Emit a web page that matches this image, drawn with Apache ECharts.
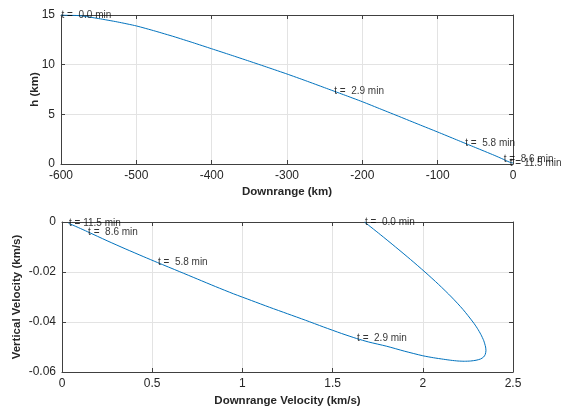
<!DOCTYPE html>
<html>
<head>
<meta charset="utf-8">
<script src="https://cdn.jsdelivr.net/npm/echarts@6/dist/echarts.min.js"></script>
<style>
html,body{margin:0;padding:0;background:#fff;}
#chart{width:566px;height:407px;}
</style>
</head>
<body>
<div id="chart"></div>
<script>
// ---- Top plot: altitude vs downrange ----
const downrange = [-600, -575, -550, -525, -500, -475, -450, -425, -400, -375, -350, -325, -300, -275, -250, -225, -200, -175, -150, -125, -100, -75, -50, -25, -13, -5, 0];
const altitude  = [15.0, 14.93, 14.64, 14.3, 13.9, 13.38, 12.82, 12.22, 11.6, 10.98, 10.35, 9.71, 9.06, 8.38, 7.68, 6.98, 6.27, 5.51, 4.75, 3.98, 3.22, 2.44, 1.66, 0.88, 0.48, 0.2, 0.1];

// ---- Bottom plot: vertical velocity vs downrange velocity ----
const downVel = [1.677, 1.764, 1.849, 1.932, 2.012, 2.088, 2.159, 2.223, 2.278, 2.302, 2.322, 2.338, 2.348, 2.350, 2.346, 2.337, 2.320, 2.295, 2.265, 2.230, 2.195, 2.155, 2.115, 2.060, 2.000, 1.900, 1.800, 1.700, 1.633, 1.550, 1.450, 1.350, 1.250, 1.150, 1.050, 0.950, 0.850, 0.750, 0.650, 0.529, 0.450, 0.350, 0.250, 0.142, 0.090, 0.036];
const vertVel = [0, -0.0050, -0.0100, -0.0150, -0.0200, -0.0250, -0.0300, -0.0350, -0.0400, -0.0425, -0.0450, -0.0475, -0.0500, -0.0515, -0.0530, -0.0540, -0.0548, -0.0553, -0.0556, -0.0557, -0.0556, -0.0553, -0.0549, -0.0543, -0.0535, -0.0517, -0.0497, -0.0480, -0.0466, -0.0446, -0.0420, -0.0393, -0.0367, -0.0341, -0.0314, -0.0287, -0.0258, -0.0228, -0.0198, -0.0162, -0.0138, -0.0107, -0.0075, -0.0039, -0.0022, -0.0005];

// ---- Time annotations ----
const timeLabels = ['t =  0.0 min', 't =  2.9 min', 't =  5.8 min', 't =  8.6 min', 't = 11.5 min'];
const labelRange = [-600, -238, -64, -13, -5];
const labelAlt   = [15.0, 7.28, 2.08, 0.48, 0.12];
const labelDownVel = [1.677, 1.633, 0.529, 0.142, 0.036];
const labelVertVel = [0, -0.0466, -0.0162, -0.0039, -0.0005];

// tick settings
const xTicksTop = {min: -600, max: 0, interval: 100};
const yTicksTop = {min: 0, max: 15, interval: 5};
const xTicksBot = {min: 0, max: 2.5, interval: 0.5};
const yTicksBot = {min: -0.06, max: 0, interval: 0.02};

const AX = '#404040', TXT = '#262626', GRID = '#e3e3e3', LINE = '#0072BD';
const FONT = 'Liberation Sans, Arial, Helvetica, sans-serif';

function mainAxis(grid, ticks, pos, name, gap) {
  return Object.assign({
    gridIndex: grid, type: 'value', position: pos,
    name: name, nameLocation: 'middle', nameGap: gap, nameMoveOverlap: false,
    nameTextStyle: {fontWeight: 'bold', fontSize: 11.5, color: TXT, fontFamily: FONT},
    axisLine: {show: true, onZero: false, lineStyle: {color: AX, width: 1}},
    axisTick: {show: true, inside: true, length: 4, lineStyle: {color: AX}},
    axisLabel: {fontSize: 12, color: TXT, margin: 6, fontFamily: FONT},
    splitLine: {show: true, lineStyle: {color: GRID, width: 1}}
  }, ticks);
}
function boxAxis(grid, ticks, pos) {
  return Object.assign({
    gridIndex: grid, type: 'value', position: pos,
    axisLine: {show: true, onZero: false, lineStyle: {color: AX, width: 1}},
    axisTick: {show: true, inside: true, length: 4, lineStyle: {color: AX}},
    axisLabel: {show: false},
    splitLine: {show: false}
  }, ticks);
}
function zip(a, b) { return a.map((v, i) => [v, b[i]]); }
function labelData(xs, ys) { return xs.map((v, i) => ({value: [v, ys[i]], name: timeLabels[i]})); }
const labelStyle = {
  show: true, position: 'right', distance: 0,
  formatter: p => p.name, fontSize: 10, color: '#000', fontFamily: FONT
};

const option = {
  animation: false,
  backgroundColor: '#fff',
  grid: [
    {left: 61, top: 15, width: 452, height: 149, show: false, containLabel: false, outerBoundsMode: 'none'},
    {left: 62, top: 222, width: 451, height: 150, show: false, containLabel: false, outerBoundsMode: 'none'}
  ],
  xAxis: [
    mainAxis(0, xTicksTop, 'bottom', 'Downrange (km)', 22),
    boxAxis(0, xTicksTop, 'top'),
    mainAxis(1, xTicksBot, 'bottom', 'Downrange Velocity (km/s)', 23),
    boxAxis(1, xTicksBot, 'top')
  ],
  yAxis: [
    mainAxis(0, yTicksTop, 'left', 'h (km)', 20),
    boxAxis(0, yTicksTop, 'right'),
    mainAxis(1, yTicksBot, 'left', 'Vertical Velocity (km/s)', 39),
    boxAxis(1, yTicksBot, 'right')
  ],
  series: [
    {type: 'line', xAxisIndex: 0, yAxisIndex: 0, data: zip(downrange, altitude),
     smooth: 0.2, showSymbol: false, lineStyle: {color: LINE, width: 1}, silent: true},
    {type: 'line', xAxisIndex: 2, yAxisIndex: 2, data: zip(downVel, vertVel),
     smooth: 0.25, showSymbol: false, lineStyle: {color: LINE, width: 1}, silent: true},
    {type: 'scatter', xAxisIndex: 0, yAxisIndex: 0, data: labelData(labelRange, labelAlt),
     symbolSize: 1, itemStyle: {color: 'rgba(0,0,0,0)'}, label: labelStyle, silent: true, z: 5},
    {type: 'scatter', xAxisIndex: 2, yAxisIndex: 2, data: labelData(labelDownVel, labelVertVel),
     symbolSize: 1, itemStyle: {color: 'rgba(0,0,0,0)'}, label: labelStyle, silent: true, z: 5}
  ]
};
const chart = echarts.init(document.getElementById('chart'), null, {renderer: 'canvas'});
chart.setOption(option);
</script>
</body>
</html>
